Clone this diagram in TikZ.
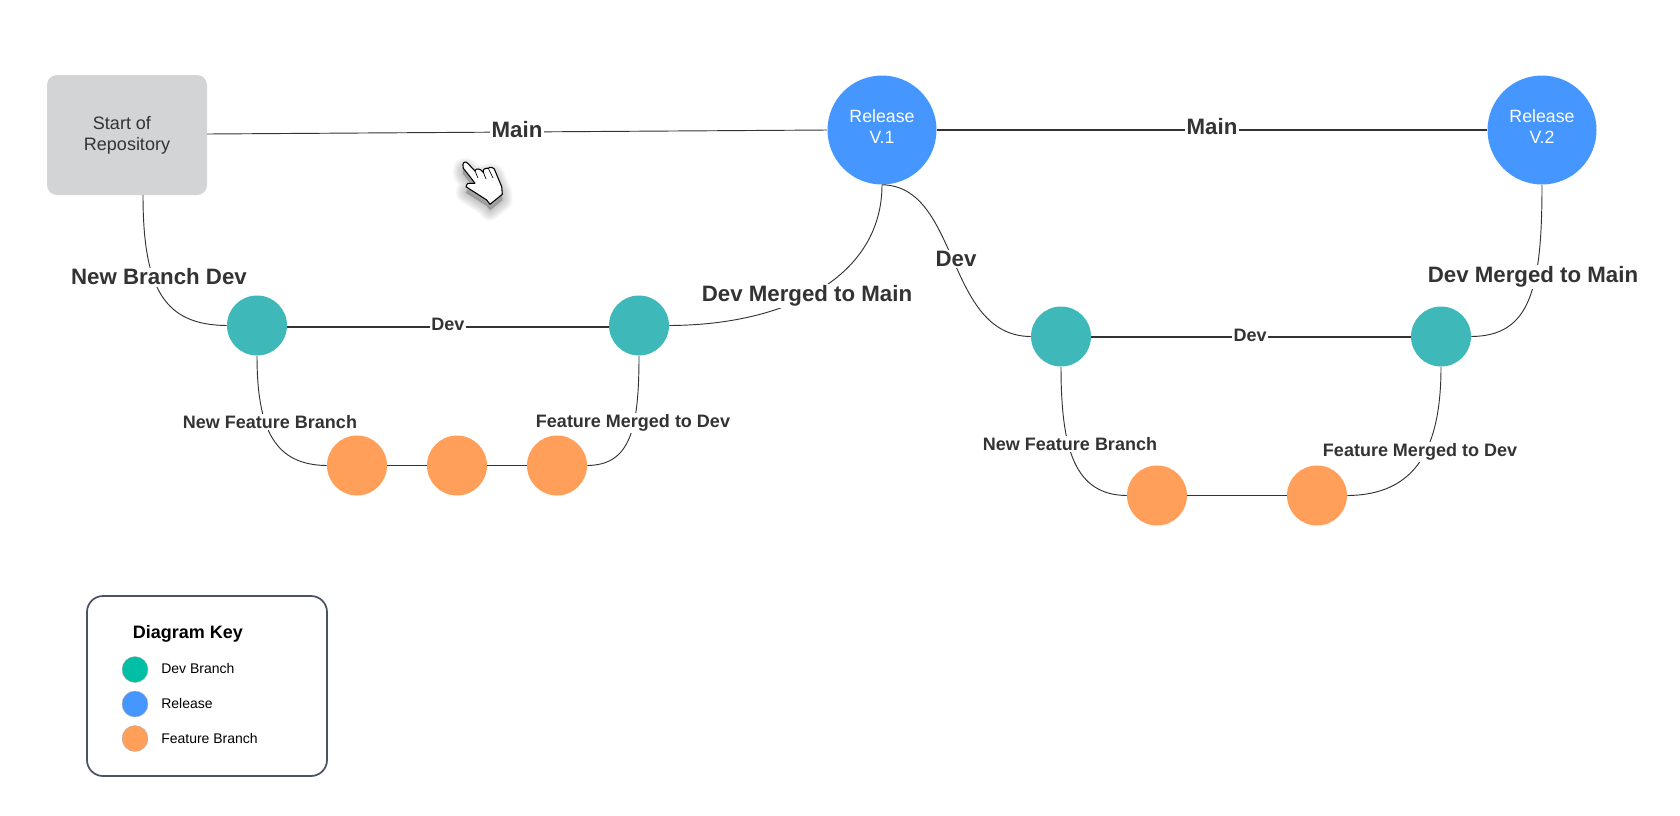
\documentclass[tikz,border=0pt]{standalone}
\usepackage{fontspec}
\setmainfont{Liberation Sans}
\definecolor{relblue}{HTML}{4596FF}
\definecolor{devteal}{HTML}{3EB8B8}
\definecolor{featorange}{HTML}{FF9F5A}
\definecolor{keyteal}{HTML}{00BFA5}
\definecolor{boxgray}{HTML}{D3D4D6}
\definecolor{inktext}{HTML}{333333}
\definecolor{linedark}{HTML}{333333}
\definecolor{keyborder}{HTML}{4C5263}
\tikzset{
  dot/.style={circle,draw=none,inner sep=0pt,minimum size=#1},
  relnode/.style={dot=109*0.75pt,fill=relblue,text=white,align=center,font=\fontsize{13.3}{16}\selectfont},
  devnode/.style={dot=60*0.75pt,fill=devteal},
  featnode/.style={dot=60*0.75pt,fill=featorange},
  keydot/.style={circle,draw=black!30,line width=0.3pt,inner sep=0pt,minimum size=26*0.75pt},
  keytext/.style={anchor=west,inner sep=0pt,text=black,font=\fontsize{10.5}{12}\selectfont},
  biglabel/.style={fill=white,inner sep=1pt,text=inktext,font=\bfseries\fontsize{16.7}{18}\selectfont},
  smalllabel/.style={fill=white,inner sep=1pt,text=inktext,font=\bfseries\fontsize{13.5}{15}\selectfont},
  mainline/.style={draw=linedark,line width=1.1pt},
  curveline/.style={draw=linedark,line width=0.7pt},
  thinline/.style={draw=linedark,line width=0.7pt}
}
\begin{document}
\begin{tikzpicture}[x=0.75pt,y=-0.75pt]
\useasboundingbox (0,0) rectangle (1680,815);
% nodes
\node[fill=boxgray,rounded corners=7.5pt,minimum width=120pt,minimum height=90pt,inner sep=0pt] (start) at (127,135) {};
\node[text=inktext,inner sep=0pt,font=\fontsize{13.5}{16}\selectfont] (startl1) at (122,123) {Start of};
\node[text=inktext,inner sep=0pt,font=\fontsize{13.5}{16}\selectfont] (startl2) at (127,146) {Repository};
\node[relnode] (r1) at (882,130) {\raisebox{5pt}{\shortstack{Release\\[3pt]V.1}}};
\node[relnode] (r2) at (1542,130) {\raisebox{5pt}{\shortstack{Release\\[3pt]V.2}}};
\node[devnode] (t1) at (257,325.5) {};
\node[devnode] (t2) at (639,325.5) {};
\node[devnode] (t3) at (1061,336.5) {};
\node[devnode] (t4) at (1441,336.5) {};
\node[featnode] (o1) at (357,465.5) {};
\node[featnode] (o2) at (457,465.5) {};
\node[featnode] (o3) at (557,465.5) {};
\node[featnode] (o4) at (1157,495.5) {};
\node[featnode] (o5) at (1317,495.5) {};
% attachment points
\coordinate (startr) at (207,134);
\coordinate (startb) at (143,195);
\coordinate (t1r) at (287,327);
\coordinate (t2l) at (609,327);
\coordinate (t3r) at (1091,337);
\coordinate (t4l) at (1411,337);
% connectors
\draw[thinline] (startr) -- (r1.west);
\draw[mainline] (r1.east) -- (r2.west);
\draw[mainline] (t1r) -- (t2l);
\draw[mainline] (t3r) -- (t4l);
\draw[thinline] (o1.east) -- (o2.west);
\draw[thinline] (o2.east) -- (o3.west);
\draw[thinline] (o4.east) -- (o5.west);
\draw[curveline] (startb) .. controls (143,290) and (165,325) .. (t1.west);
\draw[curveline] (r1.south) .. controls (882,275) and (790,325) .. (t2.east);
\draw[curveline] (r1.south) .. controls (960,186) and (945,336) .. (t3.west);
\draw[curveline] (r2.south) .. controls (1542,290) and (1530,336) .. (t4.east);
\draw[curveline] (t1.south) .. controls (257,430) and (275,465) .. (o1.west);
\draw[curveline] (t2.south) .. controls (639,430) and (630,465) .. (o3.east);
\draw[curveline] (t3.south) .. controls (1061,450) and (1075,495) .. (o4.west);
\draw[curveline] (t4.south) .. controls (1441,450) and (1415,495) .. (o5.east);
% labels
\node[biglabel] (lmain1) at (517,130) {Main};
\node[biglabel] (lmain2) at (1212,127) {Main};
\node[biglabel] (lnew) at (159,277) {New Branch Dev};
\node[biglabel] (lm1) at (807,296) {Dev Merged to Main};
\node[biglabel] (ldev) at (956,259) {Dev};
\node[biglabel] (lm2) at (1533,277) {Dev Merged to Main};
\node[smalllabel] (ld1) at (448,324.5) {Dev};
\node[smalllabel] (ld2) at (1250,335.5) {Dev};
\node[smalllabel] (lf1) at (270,422) {New Feature Branch};
\node[smalllabel] (lf2) at (633,423) {Feature Merged to Dev};
\node[smalllabel] (lf3) at (1070,444) {New Feature Branch};
\node[smalllabel] (lf4) at (1420,452) {Feature Merged to Dev};
% hand cursor
\def\handpath{(464,162.3) .. controls (465.5,161.6) and (467,162.3) .. (467.7,163.3)
  -- (475,171) .. controls (475.5,169) and (477,168.6) .. (478.3,169)
  .. controls (480,169) and (481,170) .. (483.3,172.3)
  .. controls (483,170) and (483.5,169.2) .. (484.3,169)
  .. controls (486,168) and (487.5,168.2) .. (488.3,168.3)
  .. controls (488.5,167.5) and (489,167.3) .. (490,167.3)
  .. controls (492,167.3) and (493.5,168) .. (494.3,169)
  -- (501.7,186.7) -- (502.3,194.3) -- (490,204.3) -- (486.7,200)
  -- (470,189.3) -- (466,186.7) .. controls (466.5,184.5) and (467.5,183.5) .. (468.3,183.3)
  -- (475,183.3) -- (470,176.7) -- (463.3,168.3) .. controls (462.5,165.5) and (462.8,163.2) .. (464,162.3) -- cycle}
\begin{scope}[shift={(0,6)}]
\foreach \w in {21,19,17,15,13,11,9,7,5,3,1}{
  \draw[fill=black,fill opacity=0.022,draw=black,draw opacity=0.022,line width=\w*0.75pt,line join=round] \handpath;
}
\end{scope}
\draw[fill=white,draw=black,line width=0.8pt,line join=round] \handpath;
\draw[black,line width=0.5pt] (475,171) -- (478,178);
\draw[black,line width=0.5pt] (483.3,172.3) -- (486,179);
\draw[black,line width=0.5pt] (488.3,168.3) -- (493,178);
% key
\node[draw=keyborder,line width=1.3pt,fill=white,rounded corners=12pt,minimum width=180pt,minimum height=135pt,inner sep=0pt] (key) at (207,686) {};
\node[anchor=west,inner sep=0pt,text=black,font=\bfseries\fontsize{13.5}{15}\selectfont] (keytitle) at (132.5,634) {Diagram Key};
\node[keydot,fill=keyteal] (k1) at (135,669.5) {};
\node[keydot,fill=relblue] (k2) at (135,704) {};
\node[keydot,fill=featorange] (k3) at (135,738.5) {};
\node[keytext] (kt1) at (161,668) {Dev Branch};
\node[keytext] (kt2) at (161,703) {Release};
\node[keytext] (kt3) at (161,738) {Feature Branch};
\end{tikzpicture}
\end{document}
